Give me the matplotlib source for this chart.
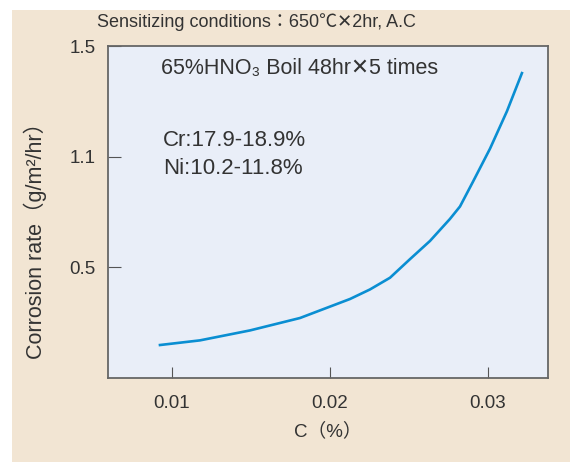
import numpy as np
import matplotlib.pyplot as plt
from matplotlib.patches import Rectangle

plt.rcParams['font.family'] = ['Liberation Sans', 'Noto Sans CJK JP', 'DejaVu Sans']

# carbon content (%) and corrosion rate (g/m2/hr)
c_pct = [0.00924, 0.01177, 0.01494, 0.01810, 0.02127, 0.02253, 0.02380, 0.02506,
         0.02633, 0.02759, 0.02823, 0.02905, 0.03013, 0.03120, 0.03215]
rate = [0.149, 0.170, 0.215, 0.271, 0.357, 0.400, 0.453, 0.544,
        0.643, 0.762, 0.830, 0.964, 1.129, 1.264, 1.402]

x_ticks = [0.01, 0.02, 0.03]
x_labels = ['0.01', '0.02', '0.03']
y_ticks = [0.5, 1.1, 1.5]
y_labels = ['0.5', '1.1', '1.5']

# y axis is not linear: the three labels sit at equal spacing
y_vals = [0.0, 0.5, 1.1, 1.5]
y_pos = [0.0, 1.0, 2.0, 3.0]
def fwd(v):
    return np.interp(v, y_vals, y_pos)
def inv(p):
    return np.interp(p, y_pos, y_vals)

fig = plt.figure(figsize=(5.7, 4.62), dpi=100)
fig.patch.set_facecolor('white')
fig.patches.append(Rectangle((12/570, 0), 1, 452/462, transform=fig.transFigure,
                             facecolor='#F2E5D3', edgecolor='none', zorder=-10))

ax = fig.add_axes([108/570, 84/462, 440/570, 332/462])
ax.set_facecolor('#E9EEF8')
ax.set_yscale('function', functions=(fwd, inv))

ax.plot(c_pct, rate, color='#0A8ED2', lw=1.9, solid_joinstyle='round')

ax.set_xlim(0.00595, 0.0338)
ax.set_ylim(0, 1.5)
ax.set_xticks(x_ticks, x_labels)
ax.set_yticks(y_ticks, y_labels)
ax.minorticks_off()
ax.tick_params(direction='in', color='#555555', labelcolor='#333333', labelsize=13.5)
ax.tick_params(axis='y', length=9, pad=9)
ax.tick_params(axis='x', length=8, pad=12)
for s in ax.spines.values():
    s.set_color('#666666')
    s.set_linewidth(1.3)

ax.set_xlabel('C（%）', fontsize=13.5, color='#333333', labelpad=8)
ax.set_ylabel('Corrosion rate（g/m²/hr）', fontsize=15.5, color='#333333')
ax.yaxis.set_label_coords(-0.139, 0.43)

fig.text(97/570, 1 - 22/462, 'Sensitizing conditions：650℃✕2hr, A.C',
         fontsize=13, color='#333333', va='center')
fig.text(300/570, 1 - 68/462, '65%HNO₃ Boil 48hr✕5 times',
         fontsize=15.5, color='#333333', ha='center', va='center')
fig.text(163/570, 1 - 141/462, 'Cr:17.9-18.9%',
         fontsize=16, color='#333333', va='center')
fig.text(163/570, 1 - 168/462, 'Ni:10.2-11.8%',
         fontsize=16, color='#333333', va='center')

fig.savefig('out.png', dpi=100)
